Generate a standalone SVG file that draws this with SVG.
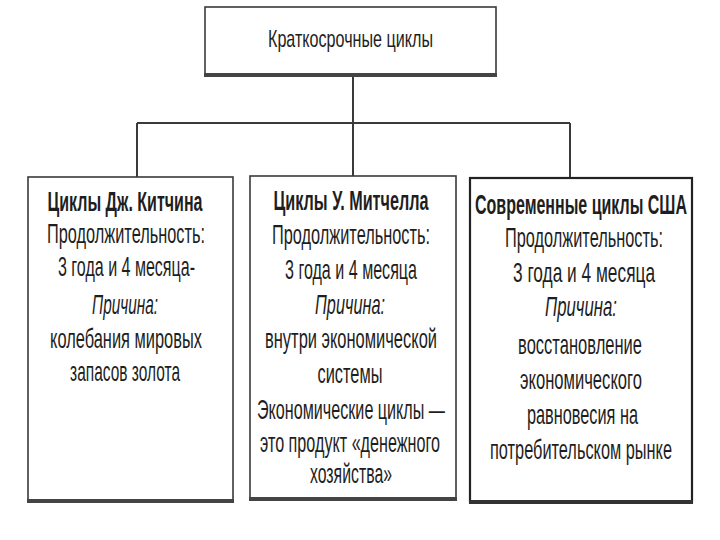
<svg xmlns="http://www.w3.org/2000/svg" width="720" height="540" viewBox="0 0 720 540">
<style>
.box{fill:#fff;stroke:#3a3a3a;stroke-width:1.6}
.shadow{stroke:#444;stroke-width:4;fill:none}
.conn{stroke:#3a3a3a;stroke-width:2;fill:none}
text{font-family:"Liberation Sans Narrow","Liberation Sans",Arial,sans-serif;fill:#1e1e1e;text-anchor:middle;font-size:28px}
.t{font-weight:bold}
.i{font-style:italic}
.top{font-size:24px}
</style>
<rect width="720" height="540" fill="#fff"/>
<g id="connectors">
<line class="conn" x1="353" y1="76" x2="353" y2="123"/>
<line class="conn" x1="137" y1="123" x2="570" y2="123"/>
<line class="conn" x1="137" y1="123" x2="137" y2="177"/>
<line class="conn" x1="353" y1="123" x2="353" y2="176"/>
<line class="conn" x1="570" y1="123" x2="570" y2="178"/>
</g>
<g id="root">
<rect class="box" x="205" y="7" width="291" height="68"/>
<line class="shadow" x1="204" y1="75" x2="497" y2="75"/>
<g transform="matrix(0.7 0 0 1 350.5 0)">
<text class="top" x="0" y="47" textLength="235.7" lengthAdjust="spacingAndGlyphs">Краткосрочные циклы</text>
</g>
</g>
<g id="kitchin">
<rect class="box" x="28" y="177" width="205" height="324"/>
<line class="shadow" x1="27" y1="501" x2="234" y2="501"/>
<g transform="matrix(0.7 0 0 1 125.5 0)">
<text class="t" x="-0.7" y="211" textLength="221.4" lengthAdjust="spacingAndGlyphs">Циклы Дж. Китчина</text>
<text x="0.7" y="243" textLength="225.7" lengthAdjust="spacingAndGlyphs">Продолжительность:</text>
<text x="1.4" y="276" textLength="195.7" lengthAdjust="spacingAndGlyphs">3 года и 4 месяца-</text>
<text class="i" x="-0.7" y="314" textLength="94.3" lengthAdjust="spacingAndGlyphs">Причина:</text>
<text x="0.7" y="348" textLength="217.1" lengthAdjust="spacingAndGlyphs">колебания мировых</text>
<text x="-0.7" y="381" textLength="157.1" lengthAdjust="spacingAndGlyphs">запасов золота</text>
</g>
</g>
<g id="mitchell">
<rect class="box" x="250" y="176" width="206" height="323"/>
<line class="shadow" x1="249" y1="499" x2="457" y2="499"/>
<g transform="matrix(0.7 0 0 1 351 0)">
<text class="t" x="0" y="210" textLength="221.4" lengthAdjust="spacingAndGlyphs">Циклы У. Митчелла</text>
<text x="0" y="244" textLength="225.7" lengthAdjust="spacingAndGlyphs">Продолжительность:</text>
<text x="0" y="279" textLength="188.6" lengthAdjust="spacingAndGlyphs">3 года и 4 месяца</text>
<text class="i" x="-1.4" y="314" textLength="100" lengthAdjust="spacingAndGlyphs">Причина:</text>
<text x="0" y="348" textLength="245.7" lengthAdjust="spacingAndGlyphs">внутри экономической</text>
<text x="-1.4" y="383" textLength="92.9" lengthAdjust="spacingAndGlyphs">системы</text>
<text x="0" y="419" textLength="268.6" lengthAdjust="spacingAndGlyphs">Экономические циклы —</text>
<text x="-1.4" y="452" textLength="257.1" lengthAdjust="spacingAndGlyphs">это продукт «денежного</text>
<text x="0" y="483" textLength="117.1" lengthAdjust="spacingAndGlyphs">хозяйства»</text>
</g>
</g>
<g id="usa">
<rect class="box" x="470" y="178" width="222" height="324" style="stroke:#222;stroke-width:2.2"/>
<line class="shadow" x1="469" y1="502" x2="693" y2="502" style="stroke:#333"/>
<g transform="matrix(0.6 0 0 1 581 0)">
<text class="t" x="0" y="214" textLength="353.3" lengthAdjust="spacingAndGlyphs">Современные циклы США</text>
</g>
<g transform="matrix(0.7 0 0 1 581 0)">
<text x="4.3" y="247" textLength="225.7" lengthAdjust="spacingAndGlyphs">Продолжительность:</text>
<text x="4.3" y="282" textLength="202.9" lengthAdjust="spacingAndGlyphs">3 года и 4 месяца</text>
<text class="i" x="0" y="316" textLength="102.9" lengthAdjust="spacingAndGlyphs">Причина:</text>
<text x="-1.4" y="354" textLength="177.1" lengthAdjust="spacingAndGlyphs">восстановление</text>
<text x="0" y="389" textLength="174.3" lengthAdjust="spacingAndGlyphs">экономического</text>
<text x="2.1" y="424" textLength="158.6" lengthAdjust="spacingAndGlyphs">равновесия на</text>
<text x="0" y="459" textLength="260" lengthAdjust="spacingAndGlyphs">потребительском рынке</text>
</g>
</g>
</svg>
